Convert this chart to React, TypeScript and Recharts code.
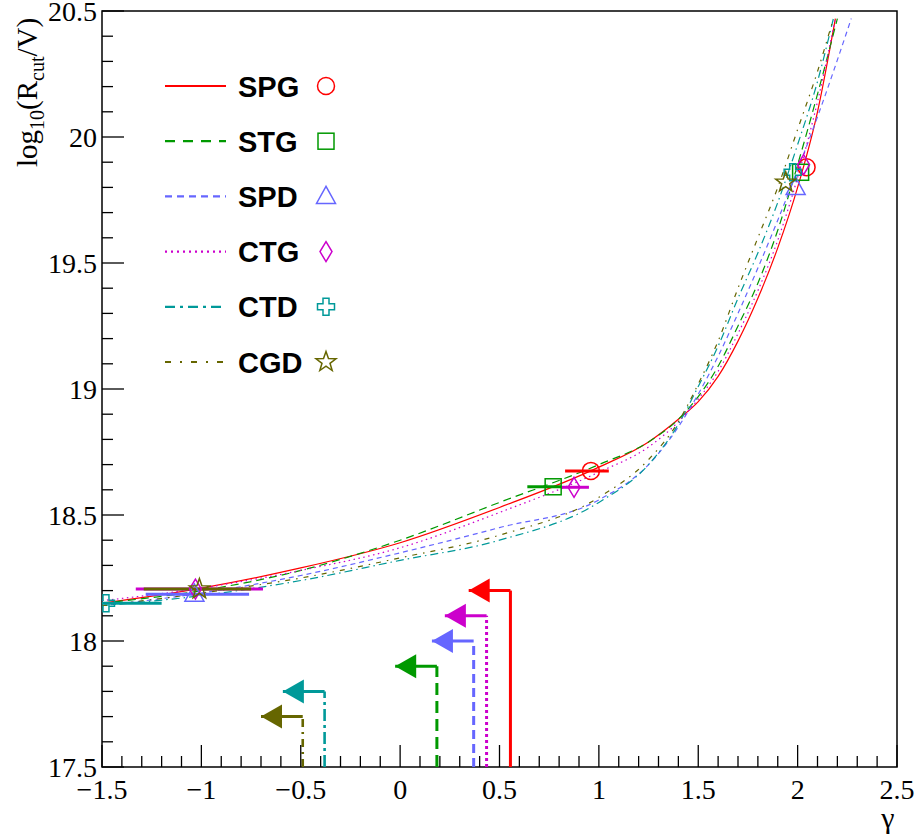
import React from "react";
import { ComposedChart, Line, Scatter, XAxis, YAxis, ReferenceArea, Legend } from "recharts";

const MODELS = ["SPG", "STG", "SPD", "CTG", "CTD", "CGD"];
const COLORS = ["#ff0000", "#009900", "#6666ff", "#cc00cc", "#009999", "#666600"];

// model curves sampled at CURVE_X, then the point where each one leaves the top of the frame
const CURVE_X = [-1.5, -1, -0.5, 0, 0.5, 1, 1.25, 1.4, 1.5, 1.6, 1.7, 1.8, 1.9, 2, 2.1];
const SPG_Y = [18.15, 18.21, 18.29, 18.39, 18.53, 18.69, 18.79, 18.88, 18.95, 19.05, 19.19, 19.36, 19.56, 19.8, 20.1];
const STG_Y = [18.15, 18.2, 18.28, 18.4, 18.55, 18.7, 18.79, 18.88, 18.97, 19.09, 19.25, 19.42, 19.63, 19.89, 20.17];
const SPD_Y = [18.14, 18.19, 18.26, 18.35, 18.45, 18.56, 18.7, 18.85, 18.98, 19.13, 19.3, 19.48, 19.67, 19.87, 20.08];
const CTG_Y = [18.16, 18.21, 18.28, 18.37, 18.51, 18.67, 18.77, 18.87, 18.96, 19.07, 19.22, 19.39, 19.59, 19.84, 20.14];
const CTD_Y = [18.14, 18.18, 18.24, 18.32, 18.4, 18.55, 18.7, 18.86, 19.01, 19.17, 19.36, 19.54, 19.74, 19.97, 20.22];
const CGD_Y = [18.14, 18.19, 18.25, 18.33, 18.42, 18.57, 18.72, 18.87, 19.02, 19.19, 19.4, 19.6, 19.8, 20.03, 20.26];
const CURVES_Y = [SPG_Y, STG_Y, SPD_Y, CTG_Y, CTD_Y, CGD_Y];
const END_X = [2.19, 2.2, 2.27, 2.19, 2.18, 2.18];
const END_Y = [20.47, 20.47, 20.47, 20.47, 20.47, 20.47];

// fitted points with horizontal error bars (null = no bar)
const PT_MODEL = [0, 0, 1, 1, 2, 2, 3, 3, 3, 4, 4, 5, 5];
const PT_X = [0.96, 2.045, 0.77, 2.015, -1.035, 1.99, -1.03, 0.875, 2.03, -1.48, 1.975, -1.01, 1.94];
const PT_Y = [18.675, 19.88, 18.612, 19.86, 18.186, 19.8, 18.206, 18.61, 19.89, 18.15, 19.86, 18.206, 19.82];
const ERR_LO = [0.83, null, 0.64, null, -1.28, null, -1.33, 0.81, null, -1.5, null, -1.29, null];
const ERR_HI = [1.05, null, 0.81, null, -0.76, null, -0.69, 0.95, null, -1.2, null, -0.75, null];

// upper limits on gamma
const LIMIT_X = [0.555, 0.185, 0.37, 0.435, -0.38, -0.49];
const LIMIT_Y = [18.2, 17.9, 18.0, 18.1, 17.8, 17.7];
const ARROW_X = [0.345, -0.025, 0.16, 0.225, -0.59, -0.7];

const X_TICKS = [-1.5, -1, -0.5, 0, 0.5, 1, 1.5, 2, 2.5];
const Y_TICKS = [17.5, 18, 18.5, 19, 19.5, 20, 20.5];

const CURVE_DASH = [undefined, "8 5", "5 4", "1.5 3.5", "8 4 1.5 4", "5 6 1.5 6"];
const LEGEND_DASH = [undefined, "10 8", "7 5", "2 4", "10 5 3 5", "6 9 2 9"];
const LIMIT_DASH = [undefined, "12 6", "9 5", "3 3", "12 4 3 4", "8 5 2 5"];

const SERIF = "Liberation Serif, Times New Roman, serif";
const SANS = "Liberation Sans, Arial, sans-serif";

const withMinor = (major: number[]) =>
  major.flatMap((v, i) =>
    i === 0 ? [v] : [1, 2, 3, 4, 5].map((k) => +(major[i - 1] + ((v - major[i - 1]) * k) / 5).toFixed(3))
  );
const isMajor = (v: number) => Math.abs(v * 2 - Math.round(v * 2)) < 1e-6;
const fmt = (v: number) => (v < 0 ? "\u2212" : "") + String(Math.abs(v));

function Marker({ kind, cx, cy, color }: { kind: number; cx: number; cy: number; color: string }) {
  const p = { fill: "none", stroke: color, strokeWidth: 1.5 };
  if (kind === 0) return <circle cx={cx} cy={cy} r={8.5} {...p} />;
  if (kind === 1) return <rect x={cx - 8} y={cy - 8} width={16} height={16} {...p} />;
  if (kind === 2)
    return <polygon points={`${cx},${cy - 10} ${cx - 9.5},${cy + 7} ${cx + 9.5},${cy + 7}`} {...p} />;
  if (kind === 3)
    return <polygon points={`${cx},${cy - 10} ${cx + 6},${cy} ${cx},${cy + 10} ${cx - 6},${cy}`} {...p} />;
  if (kind === 4) {
    const a = 3, l = 8.5;
    const pts = [
      [-a, -l], [a, -l], [a, -a], [l, -a], [l, a], [a, a],
      [a, l], [-a, l], [-a, a], [-l, a], [-l, -a], [-a, -a],
    ];
    return <polygon points={pts.map(([dx, dy]) => `${cx + dx},${cy + dy}`).join(" ")} {...p} />;
  }
  const star = Array.from({ length: 10 }, (_, i) => {
    const r = i % 2 === 0 ? 10.5 : 4.2;
    const t = -Math.PI / 2 + (i * Math.PI) / 5;
    return `${cx + r * Math.cos(t)},${cy + r * Math.sin(t)}`;
  });
  return <polygon points={star.join(" ")} {...p} />;
}

const serifText = { fontFamily: SERIF, fill: "#000" };

const XTick = (props: any) => {
  const { x, y, payload } = props;
  const v = payload.value;
  const major = isMajor(v);
  return (
    <g>
      <line x1={x} x2={x} y1={y} y2={y - (major ? 22 : 11)} stroke="#000" strokeWidth={1.3} />
      {major && (
        <text x={x} y={y + 32} textAnchor="middle" fontSize={28} style={serifText}>
          {fmt(v)}
        </text>
      )}
    </g>
  );
};

const YTick = (props: any) => {
  const { x, y, payload } = props;
  const v = payload.value;
  const major = isMajor(v);
  return (
    <g>
      <line x1={x} x2={x + (major ? 22 : 11)} y1={y} y2={y} stroke="#000" strokeWidth={1.3} />
      {major && (
        <text x={x - 5} y={y + 10} textAnchor="end" fontSize={28} style={serifText}>
          {fmt(v)}
        </text>
      )}
    </g>
  );
};

const YTitle = () => (
  <text transform="rotate(-90)" x={-167} y={37} fontSize={29} style={serifText}>
    log
    <tspan dy={7} fontSize={20}>10</tspan>
    <tspan dy={-7}>(R</tspan>
    <tspan dy={7} fontSize={20}>cut</tspan>
    <tspan dy={-7}>/V)</tspan>
  </text>
);

const XTitle = () => (
  <text x={888} y={828} textAnchor="middle" fontSize={30} style={serifText}>
    γ
  </text>
);

const LegendBox = () => (
  <svg width={210} height={330}>
    {MODELS.map((name, i) => {
      const y = 30 + i * 55.2;
      return (
        <g key={name}>
          <line x1={5} x2={66} y1={y} y2={y} stroke={COLORS[i]} strokeWidth={2.2} strokeDasharray={LEGEND_DASH[i]} />
          <text x={78} y={y + 10.5} fontFamily={SANS} fontWeight="bold" fontSize={29} fill="#000">
            {name}
          </text>
          <Marker kind={i} cx={166} cy={y} color={COLORS[i]} />
        </g>
      );
    })}
  </svg>
);

export default function App() {
  const curves = CURVES_Y.map((ys, m) => [
    ...CURVE_X.map((x, i) => ({ x, y: ys[i] })),
    { x: END_X[m], y: END_Y[m] },
  ]);
  const points = MODELS.map((_, m) =>
    PT_X.map((x, i) => ({ x, y: PT_Y[i], m: PT_MODEL[i] })).filter((p) => p.m === m)
  );
  const bars = PT_X.map((_, i) => i).filter((i) => ERR_LO[i] !== null);

  return (
    <div style={{ position: "absolute", left: 0, top: 0, background: "#fff" }}>
      <ComposedChart width={918} height={838} margin={{ top: 11, right: 21, bottom: 0, left: 0 }}>
        <XAxis
          type="number"
          dataKey="x"
          domain={[X_TICKS[0], X_TICKS[X_TICKS.length - 1]]}
          allowDataOverflow
          ticks={withMinor(X_TICKS)}
          interval={0}
          tick={<XTick />}
          tickLine={false}
          axisLine={false}
          tickSize={0}
          tickMargin={0}
          height={71}
          label={<XTitle />}
        />
        <YAxis
          type="number"
          dataKey="y"
          domain={[Y_TICKS[0], Y_TICKS[Y_TICKS.length - 1]]}
          allowDataOverflow
          ticks={withMinor(Y_TICKS)}
          interval={0}
          tick={<YTick />}
          tickLine={false}
          axisLine={false}
          tickSize={0}
          tickMargin={0}
          width={102}
          label={<YTitle />}
        />
        <ReferenceArea
          x1={X_TICKS[0]}
          x2={X_TICKS[X_TICKS.length - 1]}
          y1={Y_TICKS[0]}
          y2={Y_TICKS[Y_TICKS.length - 1]}
          fill="none"
          stroke="#000"
          strokeWidth={1.5}
        />
        {curves.map((data, m) => (
          <Line
            key={"c" + m}
            data={data}
            dataKey="y"
            type="monotone"
            stroke={COLORS[m]}
            strokeWidth={1.2}
            strokeDasharray={CURVE_DASH[m]}
            dot={false}
            activeDot={false}
            isAnimationActive={false}
            legendType="none"
          />
        ))}
        {bars.map((i) => (
          <Line
            key={"e" + i}
            data={[
              { x: ERR_LO[i], y: PT_Y[i] },
              { x: ERR_HI[i], y: PT_Y[i] },
            ]}
            dataKey="y"
            type="linear"
            stroke={COLORS[PT_MODEL[i]]}
            strokeWidth={3}
            dot={false}
            activeDot={false}
            isAnimationActive={false}
            legendType="none"
          />
        ))}
        {points.map((data, m) => (
          <Scatter
            key={"p" + m}
            data={data}
            isAnimationActive={false}
            legendType="none"
            shape={(p: any) => <Marker kind={m} cx={p.cx} cy={p.cy} color={COLORS[m]} />}
          />
        ))}
        {LIMIT_X.map((lx, m) => (
          <Line
            key={"v" + m}
            data={[
              { x: lx, y: Y_TICKS[0] },
              { x: lx, y: LIMIT_Y[m] },
            ]}
            dataKey="y"
            type="linear"
            stroke={COLORS[m]}
            strokeWidth={m >= 4 ? 2.6 : 3}
            strokeDasharray={LIMIT_DASH[m]}
            dot={false}
            activeDot={false}
            isAnimationActive={false}
            legendType="none"
          />
        ))}
        {LIMIT_X.map((lx, m) => (
          <Line
            key={"h" + m}
            data={[
              { x: lx, y: LIMIT_Y[m] },
              { x: ARROW_X[m], y: LIMIT_Y[m] },
            ]}
            dataKey="y"
            type="linear"
            stroke={COLORS[m]}
            strokeWidth={3}
            activeDot={false}
            isAnimationActive={false}
            legendType="none"
            dot={(p: any) =>
              p.index === 1 ? (
                <polygon
                  key={p.key}
                  points={`${p.cx},${p.cy} ${p.cx + 21},${p.cy - 12} ${p.cx + 21},${p.cy + 12}`}
                  fill={COLORS[m]}
                />
              ) : (
                <g key={p.key} />
              )
            }
          />
        ))}
        <Legend
          layout="vertical"
          align="center"
          verticalAlign="middle"
          content={<LegendBox />}
          wrapperStyle={{ left: 160, top: 56, width: 210, height: 330 }}
        />
      </ComposedChart>
    </div>
  );
}
